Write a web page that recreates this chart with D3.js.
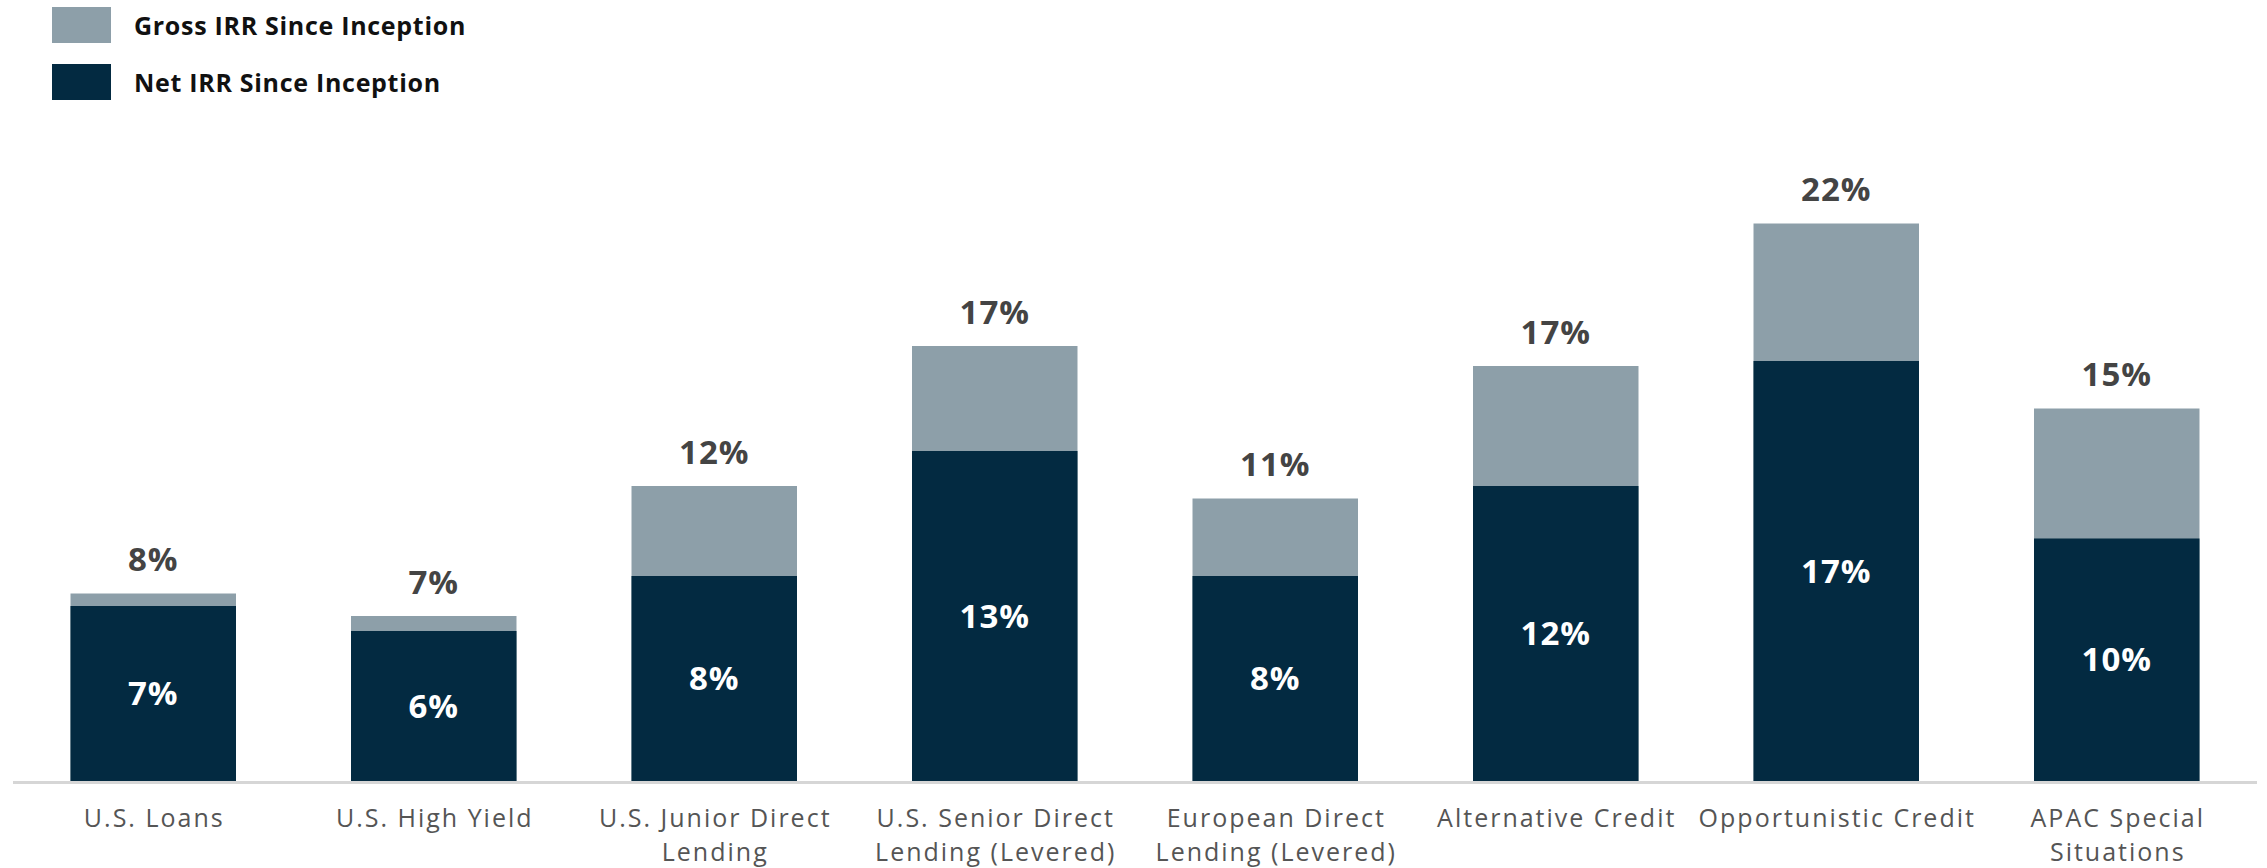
<!DOCTYPE html>
<html>
<head>
<meta charset="utf-8">
<script src="https://cdn.jsdelivr.net/npm/d3@7"></script>
<style>
  html, body { margin: 0; padding: 0; background: #fff; }
  svg { display: block; }
</style>
</head>
<body>
<svg id="chart" width="2267" height="868"></svg>
<script>
// Strategy names (line breaks mark where the axis label wraps)
const categories = [
  "U.S. Loans",
  "U.S. High Yield",
  "U.S. Junior Direct\nLending",
  "U.S. Senior Direct\nLending (Levered)",
  "European Direct\nLending (Levered)",
  "Alternative Credit",
  "Opportunistic Credit",
  "APAC Special\nSituations"
];

// Since-inception IRR, in percent
const grossIRR = [7.5, 6.6, 11.8, 17.4, 11.3, 16.6, 22.3, 14.9];
const netIRR   = [7.0, 6.0, 8.2, 13.2, 8.2, 11.8, 16.8, 9.7];

const seriesNames = ["Gross IRR Since Inception", "Net IRR Since Inception"];
const colors = { gross: "#8d9fa9", net: "#032a41" };

const width = 2267, height = 868;
const baseline = 781;

const svg = d3.select("#chart");

const x = d3.scaleBand()
  .domain(categories)
  .range([13, 2257])
  .paddingInner(0.41)
  .paddingOuter(0.205);

const y = d3.scaleLinear()
  .domain([0, 25])
  .range([baseline, baseline - 625]);

const pct = v => Math.round(v) + "%";

const rows = categories.map((c, i) => ({ cat: c, gross: grossIRR[i], net: netIRR[i] }));

// Gross bars (full height), net bars drawn on top of them
svg.append("g").selectAll("rect")
  .data(rows).join("rect")
  .attr("x", d => x(d.cat))
  .attr("width", x.bandwidth())
  .attr("y", d => y(d.gross))
  .attr("height", d => y(0) - y(d.gross))
  .attr("fill", colors.gross);

svg.append("g").selectAll("rect")
  .data(rows).join("rect")
  .attr("x", d => x(d.cat))
  .attr("width", x.bandwidth())
  .attr("y", d => y(d.net))
  .attr("height", d => y(0) - y(d.net))
  .attr("fill", colors.net);

// Baseline
svg.append("line")
  .attr("x1", x.range()[0]).attr("x2", x.range()[1])
  .attr("y1", baseline + 1.5).attr("y2", baseline + 1.5)
  .attr("stroke", "#d6d6d6").attr("stroke-width", 3);

const font = "'Open Sans', 'Noto Sans', sans-serif";

// Gross totals above bars
svg.append("g").selectAll("text")
  .data(rows).join("text")
  .attr("x", d => x(d.cat) + x.bandwidth() / 2)
  .attr("y", d => y(d.gross) - 35)
  .attr("text-anchor", "middle")
  .attr("dominant-baseline", "central")
  .attr("font-family", font)
  .attr("font-weight", 700)
  .attr("font-size", 33)
  .attr("letter-spacing", 1)
  .attr("fill", "#444")
  .text(d => pct(d.gross));

// Net values centred in the net segment
svg.append("g").selectAll("text")
  .data(rows).join("text")
  .attr("x", d => x(d.cat) + x.bandwidth() / 2)
  .attr("y", d => (y(d.net) + y(0)) / 2 - 1)
  .attr("text-anchor", "middle")
  .attr("dominant-baseline", "central")
  .attr("font-family", font)
  .attr("font-weight", 700)
  .attr("font-size", 33)
  .attr("letter-spacing", 1)
  .attr("fill", "#fff")
  .text(d => pct(d.net));

// Category axis labels
const xAxis = d3.axisBottom(x).tickSize(0).tickPadding(0);
const axisG = svg.append("g")
  .attr("transform", `translate(0,${baseline})`)
  .call(xAxis);
axisG.select(".domain").remove();
axisG.selectAll(".tick text").each(function(d) {
  const t = d3.select(this);
  t.text(null)
    .attr("font-family", font)
    .attr("font-size", 25)
    .attr("letter-spacing", 2)
    .attr("fill", "#555")
    .attr("y", 0)
    .attr("dy", null);
  d.split("\n").forEach((line, i) => {
    t.append("tspan")
      .attr("x", 1)
      .attr("y", 36 + i * 34)
      .attr("dominant-baseline", "central")
      .text(line);
  });
});

// Legend
const legend = svg.append("g");
const legendItems = [
  { name: seriesNames[0], color: colors.gross },
  { name: seriesNames[1], color: colors.net }
];
legendItems.forEach((it, i) => {
  const gy = 7 + i * 57;
  legend.append("rect")
    .attr("x", 52).attr("y", gy)
    .attr("width", 59).attr("height", 36)
    .attr("fill", it.color);
  legend.append("text")
    .attr("x", 134).attr("y", 25 + i * 57)
    .attr("dominant-baseline", "central")
    .attr("font-family", font)
    .attr("font-weight", 700)
    .attr("font-size", 25)
    .attr("letter-spacing", 0.7)
    .attr("fill", "#111")
    .text(it.name);
});
</script>
</body>
</html>
